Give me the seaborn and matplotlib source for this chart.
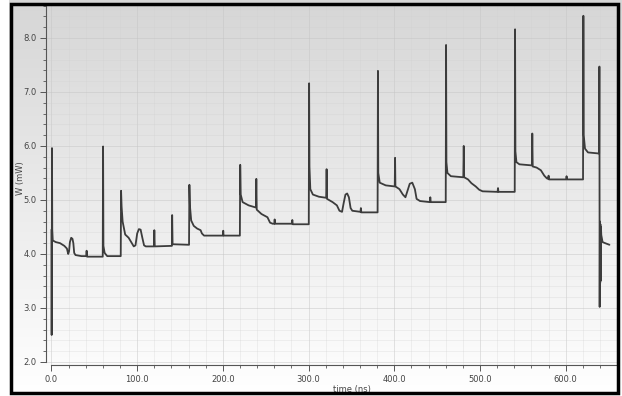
import numpy as np
import pandas as pd
import matplotlib
matplotlib.use("Agg")
import matplotlib.pyplot as plt
import seaborn as sns
from matplotlib.patches import Rectangle
from matplotlib.ticker import MultipleLocator, FormatStrFormatter

# Waveform: time (ns) and power W (mW)
time_ns = [
    0.0, 0.2, 0.4, 0.6, 0.9, 1.5, 5, 10, 15, 18, 19.5, 20.5, 21.5, 23, 24.5, 25.5, 26.5, 28, 35,
    40.5, 41, 41.5, 59.8, 60.2, 60.6, 62, 65,
    80.8, 81.2, 81.8, 83, 86, 90, 93, 96, 98, 100, 102, 104, 106, 108, 110,
    119.5, 120, 120.5, 140.5, 140.8, 141.3,
    160.5, 160.9, 161.5, 163, 166, 170, 174, 175.5, 178, 200, 200.4, 200.8,
    219.8, 220.2, 220.8, 223, 230, 238.5, 239, 239.5, 245, 252, 255, 258, 260, 260.4, 260.8,
    280.5, 281, 281.5,
    300.2, 300.6, 301, 302, 305, 312, 320.5, 321, 321.5, 328, 333, 336, 339, 341, 343, 345,
    347, 349, 351, 360.5, 361, 361.5,
    380.5, 380.9, 381.3, 383, 390, 400.5, 400.9, 401.3, 406, 410, 413, 415, 418, 421, 424,
    426, 430, 441.5, 442, 442.5,
    460, 460.4, 460.8, 462, 466, 480.5, 481, 481.5, 486, 490, 495, 499, 503, 520.5, 521, 521.5,
    540.5, 540.9, 541.3, 542.5, 546, 560.5, 561, 561.5, 566, 571, 575, 578, 579.5, 580, 580.5,
    600.5, 601, 601.5,
    620.2, 620.6, 621, 622.5, 626, 639, 639.3, 639.6, 639.9, 640.2, 640.5, 640.8, 641.1,
    641.5, 643, 646, 651,
]
power_mw = [
    4.45, 2.5, 4.4, 5.96, 4.45, 4.25, 4.22, 4.2, 4.15, 4.1, 4.0, 4.05, 4.22, 4.30, 4.28, 4.2,
    4.02, 3.98, 3.96,
    3.96, 4.06, 3.95, 3.95, 5.99, 4.15, 4.02, 3.96,
    3.96, 5.17, 4.88, 4.6, 4.36, 4.3, 4.22, 4.14, 4.16, 4.38, 4.46, 4.45, 4.3, 4.16, 4.14,
    4.14, 4.44, 4.14, 4.15, 4.72, 4.18,
    4.17, 5.28, 4.9, 4.62, 4.52, 4.47, 4.44, 4.38, 4.34, 4.34, 4.43, 4.34,
    4.34, 5.65, 5.1, 4.96, 4.9, 4.86, 5.39, 4.82, 4.74, 4.68, 4.58, 4.56, 4.56, 4.64, 4.56,
    4.56, 4.63, 4.55,
    4.55, 7.16, 5.62, 5.2, 5.1, 5.06, 5.04, 5.57, 5.02, 4.96, 4.9, 4.8, 4.78, 4.95, 5.1, 5.12,
    5.05, 4.85, 4.8, 4.78, 4.85, 4.77,
    4.77, 7.39, 5.5, 5.32, 5.27, 5.25, 5.78, 5.25, 5.2, 5.1, 5.05, 5.15, 5.3, 5.32, 5.2,
    5.02, 4.98, 4.96, 5.05, 4.96,
    4.96, 7.87, 5.7, 5.5, 5.44, 5.42, 6.0, 5.42, 5.38, 5.31, 5.25, 5.19, 5.16, 5.15, 5.22, 5.15,
    5.15, 8.16, 5.9, 5.7, 5.66, 5.64, 6.23, 5.62, 5.6, 5.55, 5.45, 5.4, 5.39, 5.45, 5.38,
    5.38, 5.44, 5.38,
    5.38, 8.41, 6.2, 5.95, 5.88, 5.86, 7.47, 3.02, 4.6, 3.46, 4.55, 3.5, 4.5,
    4.35, 4.22, 4.2, 4.17,
]

df = pd.DataFrame({"time": time_ns, "W": power_mw})

sns.set_style("white")
plt.rcParams["font.family"] = ["DejaVu Sans"]

fig = plt.figure(figsize=(6.22, 3.96), dpi=100)

# gray-to-white vertical gradient behind everything
bg = fig.add_axes([0, 0, 1, 1], zorder=0)
grad = np.linspace(0, 1, 256).reshape(-1, 1)
bg.imshow(grad, aspect="auto", cmap=plt.cm.colors.LinearSegmentedColormap.from_list(
    "bg", ["#d6d6d6", "#ffffff"]), extent=[0, 1, 0, 1], origin="upper")
bg.set_axis_off()

ax = fig.add_axes([46 / 622, 1 - 365 / 396, 572 / 622, 360 / 396], zorder=1)
ax.set_facecolor("none")

sns.lineplot(data=df, x="time", y="W", ax=ax, sort=False, estimator=None,
             color="#3c3c3c", linewidth=1.3)

ax.set_xlim(-6.4, 661)
ax.set_ylim(1.944, 8.61)

ax.xaxis.set_major_locator(MultipleLocator(100))
ax.xaxis.set_minor_locator(MultipleLocator(20))
ax.yaxis.set_major_locator(MultipleLocator(1.0))
ax.yaxis.set_minor_locator(MultipleLocator(0.2))
ax.xaxis.set_major_formatter(FormatStrFormatter("%.1f"))
ax.yaxis.set_major_formatter(FormatStrFormatter("%.1f"))

ax.grid(which="major", color="#c4c4c4", linewidth=0.6, alpha=0.55)
ax.grid(which="minor", color="#d0d0d0", linewidth=0.5, alpha=0.4)
ax.set_axisbelow(True)

for side in ["top", "right"]:
    ax.spines[side].set_visible(False)
ax.spines["left"].set_color("#555555")
ax.spines["bottom"].set_color("#555555")
ax.spines["left"].set_linewidth(0.8)
ax.spines["bottom"].set_linewidth(0.8)
ax.spines["left"].set_bounds(2.0, 8.61)
ax.spines["bottom"].set_bounds(0, 661)

ax.tick_params(which="major", direction="out", length=4, width=0.7, color="#555555",
               labelsize=6, labelcolor="#444444", pad=3, bottom=True, left=True)
ax.tick_params(which="minor", direction="out", length=2, width=0.6, color="#555555",
               bottom=True, left=True)

ax.set_xlabel("time (ns)", fontsize=6, color="#444444")
ax.xaxis.set_label_coords(0.535, -0.055)
ax.set_ylabel("W (mW)", fontsize=6, color="#444444")
ax.yaxis.set_label_coords(-0.036, 0.52)

# black frame around the whole picture
fig.patches.append(Rectangle((10.5 / 622, 3.5 / 396), 607 / 622, 389 / 396,
                             transform=fig.transFigure, fill=False,
                             edgecolor="black", linewidth=2.5, zorder=5))
# white outside the frame
fig.patches.append(Rectangle((0, 0), 9 / 622, 1, transform=fig.transFigure,
                             facecolor="white", edgecolor="none", zorder=4))
fig.patches.append(Rectangle((0, 0), 1, 2 / 396, transform=fig.transFigure,
                             facecolor="white", edgecolor="none", zorder=4))

fig.savefig("out.png", dpi=100)
plt.close(fig)
